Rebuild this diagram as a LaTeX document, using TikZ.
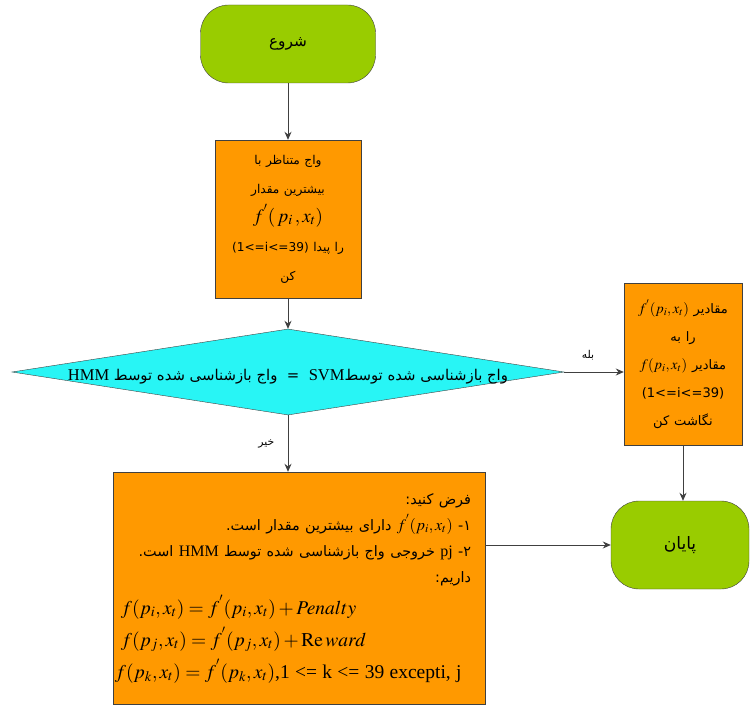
\documentclass[tikz,border=0pt]{standalone}
\usepackage{mathptmx}
\usepackage{fontspec}
\setmainfont{Liberation Serif}
\newfontfamily\farsi[Script=Arabic,Scale=0.9]{DejaVu Sans}
\newfontfamily\latsans[Scale=0.9]{DejaVu Sans}
\TeXXeTstate=1
\usetikzlibrary{arrows.meta,shapes.geometric,positioning}
\definecolor{termgreen}{RGB}{153,204,0}
\definecolor{boxorange}{RGB}{255,153,0}
\definecolor{deccyan}{RGB}{40,245,245}
\newcommand{\fa}[1]{{\farsi\beginR #1\endR}}
\newcommand{\lt}[1]{\beginL{\rmfamily #1}\endL}

\begin{document}
\begin{tikzpicture}[x=1pt, y=-1pt,
	term/.style={draw=black!75, fill=termgreen, rounded corners=28pt, minimum width=175pt, minimum height=78pt, font=\fontsize{17}{20}\selectfont},
	procbox/.style={draw=black!75, fill=boxorange, inner sep=3pt},
	decshape/.style={diamond, draw=black!75, fill=deccyan, minimum width=552pt, minimum height=86pt, inner sep=0pt},
	flow/.style={line width=0.9pt, draw=black!75, -{Stealth[length=8pt,width=7pt]}},
	tag/.style={font=\fontsize{12}{14}\selectfont}]
	\useasboundingbox (0,0) rectangle (750,706);
	% start and end
	\node [term] (start) at (288,44) {\fa{شروع}};
	\node [term, minimum width=138pt, minimum height=88pt, font=\fontsize{19}{22}\selectfont] (finish) at (680,545) {\fa{پایان}};
	% first box
	\node [procbox, minimum width=146pt, minimum height=158pt, text width=140pt, align=center, font=\fontsize{13.5}{29}\selectfont] (find) at (288,219)
		{\fa{واج متناظر با}\\ \fa{بیشترین مقدار}\\ {\fontsize{19}{29}\selectfont$f^{'}(\,p_i\,,x_t)$}\\ {\latsans (1<=i<=39)}\ \fa{را پیدا}\\ \fa{کن}};
	% decision
	\node [decshape] (check) at (288,372) {};
	\node [font=\fontsize{16.5}{19}\selectfont] (checktext) at ([yshift=-5pt]check.center)
		{\fa{واج بازشناسی شده توسط\lt{SVM}\ \ =\ \ واج بازشناسی شده توسط \lt{HMM}}};
	% yes branch
	\node [procbox, minimum width=116pt, minimum height=162pt, text width=112pt, align=center, font=\fontsize{14.5}{28}\selectfont] (mapbox) at (683,364)
		{\fa{مقادیر \lt{$f^{'}(p_i,x_t)$}}\\ \fa{را به}\\ \fa{مقادیر \lt{$f(p_i,x_t)$}}\\ {\latsans (1<=i<=39)}\\ \fa{نگاشت کن}};
	% no branch
	\node [procbox, minimum width=372pt, minimum height=232pt, text width=356pt, font=\fontsize{16}{26}\selectfont] (calcbox) at (299,588)
		{{\raggedleft
		\fa{فرض کنید:}\kern6pt\\
		\fa{۱- \lt{$f^{'}(p_i,x_t)$} دارای بیشترین مقدار است.}\kern6pt\\
		\fa{۲- \lt{pj} خروجی واج بازشناسی شده توسط \lt{HMM} است.}\kern6pt\\
		\fa{داریم:}\kern6pt\par}
		{\raggedright\fontsize{19.5}{32}\selectfont
		$f(p_i,x_t)=f^{'}(p_i,x_t)+Penalty$\\
		$f(p_j,x_t)=f^{'}(p_j,x_t)+\mathrm{Re}\,ward$\\
		\hspace*{-6pt}$f(p_k,x_t)=f^{'}(p_k,x_t)$,1 <= k <= 39 excepti, j\par}};
	% connectors
	\draw [flow] (start) -- (find);
	\draw [flow] (find) -- (check.north);
	\draw [flow] (check.east) -- node [tag, above=8pt, pos=0.4] (yes) {\fa{بله}} (check.east -| mapbox.west);
	\draw [flow] (check.south) -- node [tag, left=10pt, pos=0.5] (no) {\fa{خیر}} (check.south |- calcbox.north);
	\draw [flow] (mapbox.south) -- (mapbox.south |- finish.north);
	\draw [flow] (calcbox.east |- finish.west) -- (finish.west);
\end{tikzpicture}
\end{document}
